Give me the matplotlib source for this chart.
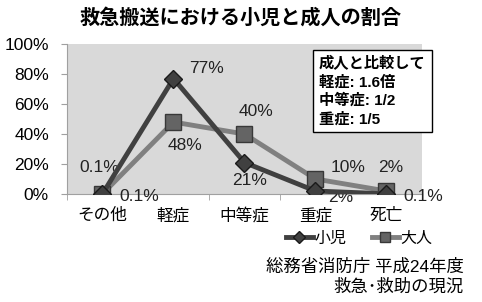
import matplotlib
matplotlib.use("Agg")
import matplotlib.pyplot as plt

plt.rcParams['font.family'] = ['Liberation Sans', 'Noto Sans CJK JP']

categories = ['その他', '軽症', '中等症', '重症', '死亡']
child = [0.001, 0.77, 0.21, 0.02, 0.001]
adult = [0.001, 0.48, 0.40, 0.10, 0.02]
child_labels = ['0.1%', '77%', '21%', '2%', '0.1%']
adult_labels = ['0.1%', '48%', '40%', '10%', '2%']
yticks = [0, 0.2, 0.4, 0.6, 0.8, 1.0]
ytick_labels = ['0%', '20%', '40%', '60%', '80%', '100%']

fig = plt.figure(figsize=(4.82, 3.02), dpi=100)
ax = fig.add_axes([0.139, 0.3576, 0.7365, 0.4964])
ax.set_facecolor('#d9d9d9')
x = list(range(len(categories)))
ax.plot(x, adult, color='#808080', lw=3.5, marker='s', ms=11,
        mfc='#646464', mec='#383838', mew=1, zorder=3, label='大人')
ax.plot(x, child, color='#404040', lw=3.5, marker='D', ms=9,
        mfc='#404040', mec='#1a1a1a', mew=1, zorder=4, label='小児')
ax.set_xlim(-0.5, 4.5)
ax.set_ylim(0, 1)
ax.set_yticks(yticks)
ax.set_yticklabels(ytick_labels, fontsize=12.5)
ax.set_xticks(x)
ax.set_xticklabels(categories, fontsize=12)
ax.set_xticks([i + 0.5 for i in range(-1, 5)], minor=True)
ax.tick_params(axis='x', which='major', length=0, pad=10)
ax.tick_params(axis='x', which='minor', length=4, color='#a0a0a0')
ax.tick_params(axis='y', length=4, color='#a0a0a0', pad=9)
for s in ['top', 'right']:
    ax.spines[s].set_visible(False)
for s in ['left', 'bottom']:
    ax.spines[s].set_color('#a0a0a0')

child_off = [(12, -2), (11, 7), (-9, -13), (9, -5), (12, -2)]
adult_off = [(-17, 19), (-4, -17), (-4, 16), (11, 8), (-6, 17)]
for i in x:
    dx, dy = child_off[i]
    ax.annotate(child_labels[i], (i, child[i]), xytext=(dx, dy), textcoords='offset points',
                fontsize=12.5, ha='left', va='center', color='#222222')
    dx, dy = adult_off[i]
    ax.annotate(adult_labels[i], (i, adult[i]), xytext=(dx, dy), textcoords='offset points',
                fontsize=12.5, ha='left', va='center', color='#222222')

fig.text(0.5, 0.94, '救急搬送における小児と成人の割合', ha='center', va='center',
         fontsize=14.5, fontweight='bold')

fig.text(0.662, 0.815, '成人と比較して\n軽症: 1.6倍\n中等症: 1/2\n重症: 1/5', ha='left', va='top',
         fontsize=11, fontweight='bold', linespacing=1.35,
         bbox=dict(boxstyle='square,pad=0.4', fc='white', ec='black', lw=1))

h, l = ax.get_legend_handles_labels()
fig.legend([h[1], h[0]], [l[1], l[0]], loc='center', bbox_to_anchor=(0.745, 0.212), ncol=2,
           frameon=False, fontsize=11.5, handlelength=1.7, handletextpad=0.1, columnspacing=1.6,
           markerscale=0.7, borderpad=0)

fig.text(0.962, 0.116, '総務省消防庁 平成24年度', ha='right', va='center', fontsize=12.5)
fig.text(0.962, 0.05, '救急･救助の現況', ha='right', va='center', fontsize=12.5)

fig.savefig('out.png', dpi=100)
